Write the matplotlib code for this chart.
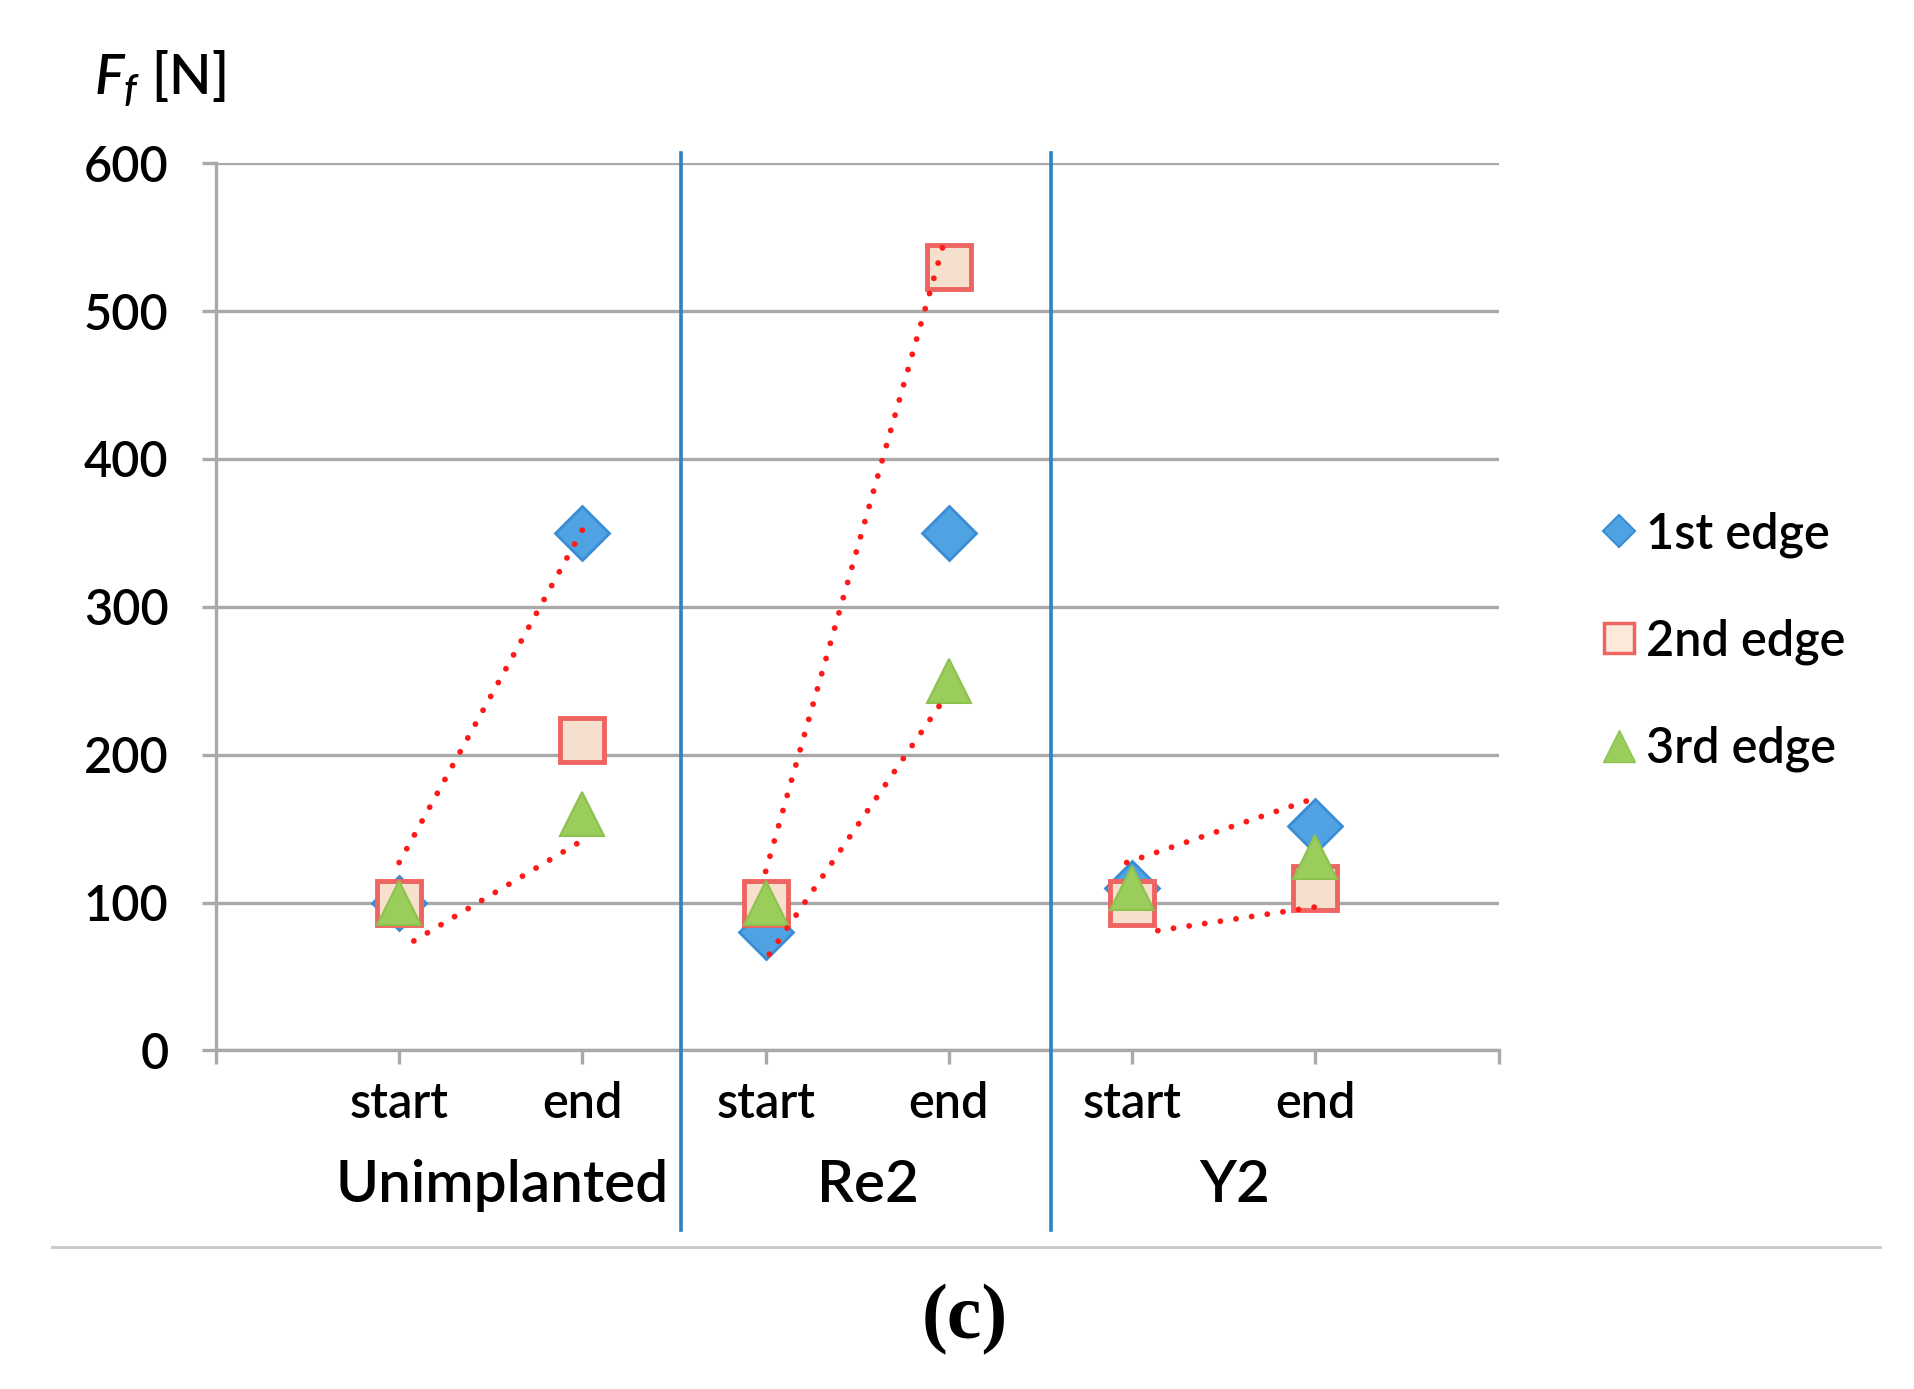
import matplotlib
matplotlib.use("Agg")
import matplotlib.pyplot as plt
import matplotlib.transforms as mtransforms
from matplotlib.lines import Line2D
import numpy as np

plt.rcParams['font.family'] = ['Lato', 'DejaVu Sans']
plt.rcParams['font.weight'] = 'semibold'
plt.rcParams['mathtext.fontset'] = 'custom'
plt.rcParams['mathtext.it'] = 'Lato:italic:semibold'
plt.rcParams['mathtext.rm'] = 'Lato:semibold'

# ---------------- data ----------------
groups = ["Unimplanted", "Re2", "Y2"]
phases = ["start", "end"]
series_names = ["1st edge", "2nd edge", "3rd edge"]
edge1 = [100, 350, 80, 350, 110, 152]
edge2 = [100, 210, 100, 530, 100, 110]
edge3 = [100, 160, 100, 250, 110, 131]

# red dotted envelope lines (x in category units, y in N)
env_upper_x = [[1.0, 2.0], [3.0, 3.97], [4.97, 5.96]]
env_upper_y = [[127, 352], [121, 545], [127, 169]]
env_lower_x = [[1.08, 2.0], [3.02, 3.97], [5.14, 6.0]]
env_lower_y = [[74, 142], [65, 237], [81, 97]]

yticks = [0, 100, 200, 300, 400, 500, 600]
group_separators = [2.54, 4.555]

# ---------------- figure ----------------
fig = plt.figure(figsize=(19.14, 13.89), dpi=100)
ax = fig.add_axes([0.1128, 0.2438, 0.783 - 0.1128, 0.8825 - 0.2438])

n = len(groups) * len(phases)
x = np.arange(1, n + 1)

grid_col = "#A9A9A9"
ax.set_xlim(0, n + 1)
ax.set_ylim(0, 600)
ax.set_yticks(yticks)
ax.yaxis.grid(True, color=grid_col, linewidth=2.4, zorder=0)
ax.set_axisbelow(True)
for s in ["top", "right"]:
    ax.spines[s].set_visible(False)
for s in ["left", "bottom"]:
    ax.spines[s].set_color(grid_col)
    ax.spines[s].set_linewidth(2.4)

ax.set_xticks(np.arange(0, n + 2))
ax.set_xticklabels([""] + phases * len(groups) + [""])
ax.tick_params(axis="x", length=10, width=2.4, color=grid_col, pad=12,
               labelsize=35, labelcolor="black")
ax.tick_params(axis="y", length=10, width=2.4, color=grid_col, pad=24,
               labelsize=35, labelcolor="black")

# envelope lines
for xs, ys in zip(env_upper_x + env_lower_x, env_upper_y + env_lower_y):
    ax.plot(xs, ys, color="#FF1A1A", linewidth=4.2,
            linestyle=(0, (0.01, 2.7)), dash_capstyle="round", zorder=5)

# series markers
ax.plot(x, edge1, linestyle="none", marker="D", markersize=27,
        markerfacecolor="#4FA3E2", markeredgecolor="#3A8DD4",
        markeredgewidth=2, zorder=3)
ax.plot(x, edge2, linestyle="none", marker="s", markersize=31,
        markerfacecolor="#F6E0CD", markeredgecolor="#EE6461",
        markeredgewidth=3.5, zorder=3.1)
ax.plot(x, edge3, linestyle="none", marker="^", markersize=32,
        markerfacecolor="#9BCD5C", markeredgecolor="#8DC24F",
        markeredgewidth=1.5, zorder=3.2)

# group separators extending below the axis
trans = mtransforms.blended_transform_factory(ax.transData, ax.transAxes)
for gx in group_separators:
    ax.plot([gx, gx], [-0.203, 1.011], transform=trans, color="#2C82C2",
            linewidth=2.6, clip_on=False, zorder=6)

# group labels
for i, g in enumerate(groups):
    cx = np.mean(x[i * len(phases):(i + 1) * len(phases)]) + 0.06
    ax.text(cx, -0.152, g, transform=trans, ha="center", va="center",
            fontsize=42, color="black")

# y label
fig.text(0.049, 0.943, r"$F_f$ [N]", fontsize=40, ha="left", va="center")

# legend
handles = [
    Line2D([], [], linestyle="none", marker="D", markersize=16,
           markerfacecolor="#4FA3E2", markeredgecolor="#3A8DD4", markeredgewidth=1.5),
    Line2D([], [], linestyle="none", marker="s", markersize=22,
           markerfacecolor="#FCE9DA", markeredgecolor="#EE6461", markeredgewidth=2.5),
    Line2D([], [], linestyle="none", marker="^", markersize=23,
           markerfacecolor="#9BCD5C", markeredgecolor="#8DC24F", markeredgewidth=1),
]
fig.legend(handles, series_names, loc="center left",
           bbox_to_anchor=(0.823, 0.538), frameon=False, fontsize=35,
           handlelength=0.8, handletextpad=0.15, labelspacing=1.25,
           borderpad=0)

# bottom separator and caption
fig.add_artist(Line2D([0.027, 0.982], [0.1025, 0.1025], transform=fig.transFigure,
                      color="#C8C8C8", linewidth=2))
fig.text(0.504, 0.050, "(c)", fontsize=56, fontweight="bold",
         family=["Liberation Serif", "DejaVu Serif"], ha="center", va="center")

fig.savefig("out.png", dpi=100, facecolor="white")
